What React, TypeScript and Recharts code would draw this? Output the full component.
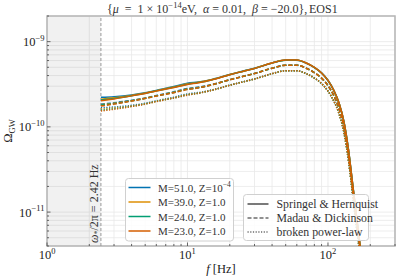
import {
  LineChart, Line, XAxis, YAxis, CartesianGrid,
  ReferenceArea, ReferenceLine,
} from 'recharts'

const FONT = "'Liberation Serif', 'DejaVu Serif', serif"

// frequencies in Hz
const freq = [2.42, 3, 4, 5, 6, 8, 10, 12, 15, 20, 25, 30, 40, 50, 60, 70, 80, 90, 100, 110, 120, 130, 140, 150, 160, 170, 180]

// Omega_GW in units of 1e-10 -- Springel & Hernquist
const sh51 = [2.22, 2.26, 2.37, 2.51, 2.68, 2.97, 3.26, 3.37, 3.61, 4.12, 4.52, 4.87, 5.62, 6.09, 6.09, 5.62, 4.99, 4.30, 3.52, 2.69, 1.90, 1.15, 0.540, 0.211, 0.087, 0.038, 0.015]
const sh39 = [2.11, 2.19, 2.34, 2.49, 2.66, 2.93, 3.20, 3.33, 3.59, 4.11, 4.51, 4.86, 5.61, 6.08, 6.08, 5.61, 4.98, 4.29, 3.51, 2.68, 1.89, 1.14, 0.535, 0.209, 0.086, 0.038, 0.015]
const sh24 = [2.06, 2.15, 2.32, 2.48, 2.65, 2.91, 3.17, 3.31, 3.58, 4.10, 4.50, 4.85, 5.60, 6.07, 6.07, 5.60, 4.97, 4.28, 3.50, 2.67, 1.88, 1.13, 0.530, 0.207, 0.085, 0.037, 0.015]
const sh23 = [2.02, 2.13, 2.31, 2.47, 2.64, 2.90, 3.15, 3.30, 3.58, 4.10, 4.50, 4.85, 5.61, 6.08, 6.08, 5.61, 4.98, 4.29, 3.51, 2.68, 1.89, 1.14, 0.535, 0.209, 0.086, 0.038, 0.015]

// Madau & Dickinson
const md51 = [1.84, 1.92, 2.05, 2.18, 2.33, 2.58, 2.82, 2.93, 3.14, 3.58, 3.93, 4.24, 4.89, 5.30, 5.30, 4.89, 4.34, 3.74, 3.06, 2.34, 1.65, 1.00, 0.470, 0.184, 0.076, 0.033, 0.013]
const md39 = [1.82, 1.89, 2.03, 2.17, 2.31, 2.55, 2.78, 2.90, 3.12, 3.58, 3.92, 4.23, 4.88, 5.29, 5.29, 4.88, 4.33, 3.73, 3.05, 2.33, 1.64, 0.99, 0.465, 0.182, 0.075, 0.033, 0.013]
const md24 = [1.80, 1.87, 2.02, 2.16, 2.31, 2.53, 2.76, 2.88, 3.12, 3.57, 3.92, 4.22, 4.87, 5.28, 5.28, 4.87, 4.32, 3.72, 3.04, 2.32, 1.63, 0.98, 0.461, 0.180, 0.074, 0.032, 0.013]
const md23 = [1.76, 1.85, 2.01, 2.15, 2.30, 2.52, 2.74, 2.87, 3.12, 3.57, 3.92, 4.22, 4.88, 5.29, 5.29, 4.88, 4.33, 3.73, 3.05, 2.33, 1.64, 0.99, 0.465, 0.182, 0.075, 0.033, 0.013]

// broken power-law
const bp51 = [1.68, 1.71, 1.79, 1.89, 2.02, 2.23, 2.44, 2.53, 2.72, 3.09, 3.39, 3.66, 4.22, 4.57, 4.57, 4.22, 3.75, 3.23, 2.64, 2.02, 1.43, 0.86, 0.405, 0.158, 0.065, 0.029, 0.011]
const bp39 = [1.62, 1.67, 1.76, 1.87, 2.00, 2.20, 2.40, 2.50, 2.70, 3.08, 3.38, 3.65, 4.21, 4.56, 4.56, 4.21, 3.74, 3.22, 2.63, 2.01, 1.42, 0.855, 0.40, 0.157, 0.065, 0.029, 0.011]
const bp24 = [1.57, 1.63, 1.74, 1.86, 1.99, 2.18, 2.37, 2.48, 2.69, 3.08, 3.38, 3.64, 4.20, 4.55, 4.55, 4.20, 3.73, 3.21, 2.62, 2.00, 1.41, 0.85, 0.398, 0.156, 0.064, 0.028, 0.011]
const bp23 = [1.535, 1.61, 1.73, 1.85, 1.98, 2.18, 2.36, 2.48, 2.69, 3.08, 3.38, 3.64, 4.21, 4.56, 4.56, 4.21, 3.74, 3.22, 2.63, 2.01, 1.42, 0.855, 0.40, 0.157, 0.065, 0.029, 0.011]

const xTicks = [1, 2, 3, 4, 5, 6, 7, 8, 9, 10, 20, 30, 40, 50, 60, 70, 80, 90, 100, 200, 300]
const yTicks = [
  4e-12, 5e-12, 6e-12, 7e-12, 8e-12, 9e-12,
  1e-11, 2e-11, 3e-11, 4e-11, 5e-11, 6e-11, 7e-11, 8e-11, 9e-11,
  1e-10, 2e-10, 3e-10, 4e-10, 5e-10, 6e-10, 7e-10, 8e-10, 9e-10,
  1e-9, 2e-9,
]

const masses = [
  { key: '51', label: 'M=51.0, Z=', zExp: '−4', color: '#0173b2' },
  { key: '39', label: 'M=39.0, Z=1.0', zExp: '', color: '#de8f05' },
  { key: '24', label: 'M=24.0, Z=1.0', zExp: '', color: '#029e73' },
  { key: '23', label: 'M=23.0, Z=1.0', zExp: '', color: '#d55e00' },
]
const models = [
  { key: 'sh', label: 'Springel & Hernquist', dash: undefined },
  { key: 'md', label: 'Madau & Dickinson', dash: '4 2' },
  { key: 'bp', label: 'broken power-law', dash: '1.2 1.5' },
]

const series: Record<string, number[]> = {
  sh51, sh39, sh24, sh23, md51, md39, md24, md23, bp51, bp39, bp24, bp23,
}

const data = freq.map((f, i) => {
  const row: Record<string, number> = { f }
  Object.keys(series).forEach((k) => { row[k] = series[k][i] * 1e-10 })
  return row
})

const isDecade = (v: number) => {
  const l = Math.log10(v)
  return Math.abs(l - Math.round(l)) < 1e-6
}

// plot box: x 47..395, y 16..246
const PLOT_BOTTOM = 246
const PLOT_LEFT = 47

function XTick(props: any) {
  const { x, payload } = props
  const v = payload.value
  const major = isDecade(v)
  const y = PLOT_BOTTOM
  return (
    <g>
      <line x1={x} x2={x} y1={y} y2={y - (major ? 3.5 : 2)} stroke="#444" strokeWidth={0.8} />
      {major && (
        <text x={x} y={y + 13} textAnchor="middle" fontSize={12.5} fill="#222" fontFamily={FONT}>
          10<tspan dy={-5.5} fontSize={8.5}>{Math.round(Math.log10(v))}</tspan>
        </text>
      )}
    </g>
  )
}

function YTick(props: any) {
  const { y, payload } = props
  const v = payload.value
  const major = isDecade(v)
  const e = Math.round(Math.log10(v))
  const x = PLOT_LEFT
  return (
    <g>
      <line x1={x} x2={x + (major ? 3.5 : 2)} y1={y} y2={y} stroke="#444" strokeWidth={0.8} />
      {major && (
        <text x={x - 2.5} y={y + 4.5} textAnchor="end" fontSize={12.5} fill="#222" fontFamily={FONT}>
          10<tspan dy={-5.5} fontSize={8.5}>{`−${-e}`}</tspan>
        </text>
      )}
    </g>
  )
}

function OmegaLabel({ viewBox }: any) {
  const x = viewBox.x - 3
  const y = viewBox.y + viewBox.height - 3
  return (
    <text
      x={x} y={y} transform={`rotate(-90 ${x} ${y})`}
      fontSize={12} fill="#333" fontFamily={FONT}
    >
      <tspan fontStyle="italic">ω</tspan>
      <tspan dy={2} fontSize={8}>*</tspan>
      <tspan dy={-2}>/2π = 2.42 Hz</tspan>
    </text>
  )
}

export default function App() {
  return (
    <div style={{ position: 'absolute', left: 0, top: 0, width: 399, height: 279, background: '#fff' }}>
      <LineChart
        width={399}
        height={279}
        data={data}
        margin={{ top: 16, right: 4, bottom: 3, left: 2 }}
      >
        <CartesianGrid stroke="#e8e8e8" strokeWidth={0.8} />
        <ReferenceArea x1={1} x2={2.42} fill="#000" fillOpacity={0.055} strokeWidth={0} ifOverflow="visible" />
        <XAxis
          dataKey="f" type="number" scale="log" domain={[1, 300]}
          ticks={xTicks} allowDataOverflow interval={0}
          height={30} tickSize={0} tickMargin={0} axisLine={false} tickLine={false}
          tick={(p: any) => <XTick {...p} />}
        />
        <YAxis
          type="number" scale="log" domain={[4e-12, 2e-9]}
          ticks={yTicks} allowDataOverflow interval={0}
          width={45} tickSize={0} tickMargin={0} axisLine={false} tickLine={false}
          tick={(p: any) => <YTick {...p} />}
        />
        <ReferenceLine
          x={2.42} stroke="#999" strokeDasharray="3 2" strokeWidth={1}
          label={<OmegaLabel />}
        />
        {masses.map((m) =>
          models.map((s) => (
            <Line
              key={s.key + m.key}
              dataKey={s.key + m.key}
              type="monotone"
              stroke={m.color}
              strokeWidth={1.5}
              strokeDasharray={s.dash}
              dot={false}
              activeDot={false}
              isAnimationActive={false}
            />
          )),
        )}
        <ReferenceArea
          x1={1} x2={300} y1={4e-12} y2={2e-9}
          fill="none" stroke="#b5b5b5" strokeWidth={1.5} ifOverflow="visible"
        />
      </LineChart>

      <svg
        width={399} height={279}
        style={{ position: 'absolute', left: 0, top: 0, pointerEvents: 'none' }}
        fontFamily={FONT}
      >
        <g fontSize={12} fill="#333">
          <text x={107} y={12.5} xmlSpace="preserve">
            {'{'}<tspan fontStyle="italic">μ</tspan>{'  =  1 × 10'}<tspan dy={-4.5} fontSize={8.5}>−14</tspan>
            <tspan dy={4.5}>eV,</tspan>
          </text>
          <text x={203} y={12.5} xmlSpace="preserve">
            <tspan fontStyle="italic">α</tspan>{' = 0.01,'}
          </text>
          <text x={252} y={12.5} xmlSpace="preserve">
            <tspan fontStyle="italic">β</tspan>{' = −20.0},'}
          </text>
          <text x={309} y={12.5}>EOS1</text>
        </g>

        <text x={221} y={273} textAnchor="middle" fontSize={12.5} fill="#222">
          <tspan fontStyle="italic">f</tspan> [Hz]
        </text>
        <text x={12} y={131} textAnchor="middle" fontSize={12.5} fill="#222" transform="rotate(-90 12 131)">
          Ω<tspan dy={3} fontSize={8.5}>GW</tspan>
        </text>

        <g>
          <rect x={125.5} y={178.5} width={108} height={62.5} rx={3} fill="#fff" fillOpacity={0.85} stroke="#d0d0d0" strokeWidth={1} />
          {masses.map((m, i) => {
            const y = 187.5 + i * 14.5
            return (
              <g key={m.key}>
                <line x1={128.5} x2={150.5} y1={y} y2={y} stroke={m.color} strokeWidth={1.5} />
                <text x={158} y={y + 4} fontSize={11} fill="#333">
                  {m.label}
                  {m.zExp && <tspan>10<tspan dy={-4.5} fontSize={7.5}>{m.zExp}</tspan></tspan>}
                </text>
              </g>
            )
          })}
        </g>

        <g>
          <rect x={243.5} y={194.5} width={125} height={46} rx={3} fill="#fff" fillOpacity={0.85} stroke="#d0d0d0" strokeWidth={1} />
          {models.map((s, i) => {
            const y = 204 + i * 14
            return (
              <g key={s.key}>
                <line x1={247.5} x2={268.5} y1={y} y2={y} stroke="#222" strokeWidth={1.2} strokeDasharray={s.dash} />
                <text x={276.5} y={y + 4} fontSize={11.8} fill="#333">{s.label}</text>
              </g>
            )
          })}
        </g>
      </svg>
    </div>
  )
}
